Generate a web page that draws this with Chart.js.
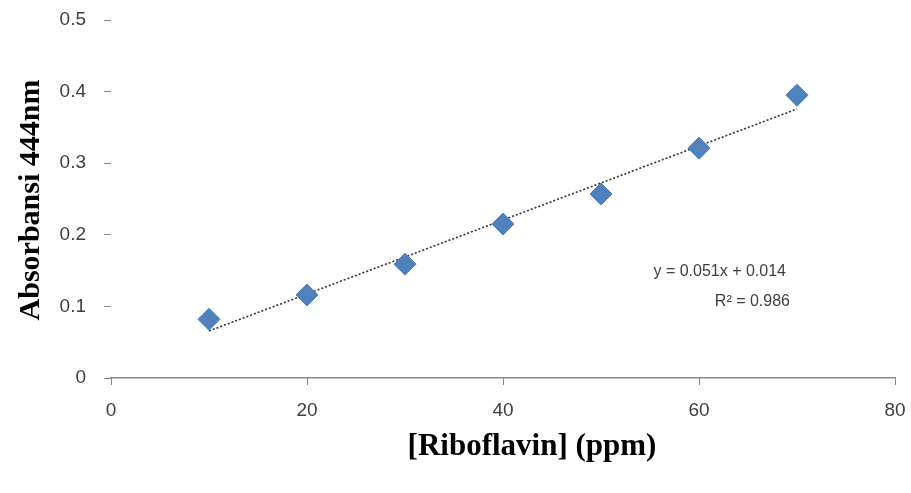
<!DOCTYPE html>
<html lang="en">
<head>
    <meta charset="UTF-8">
    <title>Riboflavin calibration</title>
    <script src="https://cdn.jsdelivr.net/npm/chart.js"></script>
    <style>
        body { margin: 0; background: #fff; }
        #chart-container { width: 911px; height: 493px; }
    </style>
</head>
<body>
    <div id="chart-container">
        <canvas id="calChart" width="911" height="493"></canvas>
    </div>

    <script>
        // Data
        const concentrations = [10, 20, 30, 40, 50, 60, 70];
        const absorbances = [0.082, 0.116, 0.159, 0.215, 0.257, 0.321, 0.395];
        const xTicks = [0, 20, 40, 60, 80];
        const yTicks = [0, 0.1, 0.2, 0.3, 0.4, 0.5];
        const equationLines = ['y = 0.051x + 0.014', 'R² = 0.986'];
        const xTitle = '[Riboflavin] (ppm)';
        const yTitle = 'Absorbansi 444nm';

        // Least squares trendline from the points
        const n = concentrations.length;
        const mx = concentrations.reduce((a, b) => a + b, 0) / n;
        const my = absorbances.reduce((a, b) => a + b, 0) / n;
        let sxy = 0, sxx = 0;
        for (let i = 0; i < n; i++) {
            sxy += (concentrations[i] - mx) * (absorbances[i] - my);
            sxx += (concentrations[i] - mx) ** 2;
        }
        const slope = sxy / sxx;
        const intercept = my - slope * mx;
        const xFirst = concentrations[0], xLast = concentrations[n - 1];
        const trend = [
            { x: xFirst, y: slope * xFirst + intercept },
            { x: xLast, y: slope * xLast + intercept }
        ];

        // Titles and equation drawn as text
        const textPlugin = {
            id: 'textPlugin',
            afterDraw(chart) {
                const ctx = chart.ctx;
                ctx.save();
                ctx.fillStyle = '#000';
                ctx.font = 'bold 31px "Liberation Serif"';
                ctx.textAlign = 'center';
                ctx.textBaseline = 'middle';
                ctx.fillText(xTitle, 532, 447);

                ctx.translate(31, 200);
                ctx.rotate(-Math.PI / 2);
                ctx.font = 'bold 30px "Liberation Serif"';
                ctx.fillText(yTitle, 0, 0);
                ctx.restore();

                ctx.save();
                ctx.fillStyle = '#404040';
                ctx.font = '16px "Liberation Sans"';
                ctx.textAlign = 'right';
                ctx.textBaseline = 'middle';
                ctx.fillText(equationLines[0], 786, 272);
                ctx.fillText(equationLines[1], 790, 302);
                ctx.restore();
            }
        };

        const ctx = document.getElementById('calChart').getContext('2d');
        new Chart(ctx, {
            type: 'scatter',
            data: {
                datasets: [{
                    label: 'Absorbansi',
                    data: concentrations.map((c, i) => ({ x: c, y: absorbances[i] })),
                    pointStyle: 'rectRot',
                    pointRadius: 11,
                    backgroundColor: '#4f81bd',
                    borderColor: '#4a7ebb',
                    borderWidth: 1
                }, {
                    label: 'Trend',
                    type: 'line',
                    data: trend,
                    borderColor: '#333',
                    borderWidth: 1.6,
                    borderDash: [2, 2],
                    pointRadius: 0,
                    fill: false
                }]
            },
            options: {
                responsive: false,
                animation: false,
                layout: { padding: { top: 20, right: 16, left: 0, bottom: 0 } },
                plugins: {
                    legend: { display: false },
                    tooltip: { enabled: false }
                },
                scales: {
                    x: {
                        type: 'linear',
                        min: 0,
                        max: 80,
                        afterBuildTicks: s => { s.ticks = xTicks.map(v => ({ value: v })); },
                        afterFit: s => { s.height = 115; s.paddingLeft = 0; s.paddingRight = 0; },
                        grid: { drawOnChartArea: false, tickLength: 7, color: '#868686' },
                        border: { display: true, color: '#868686', width: 1.5 },
                        ticks: {
                            color: '#404040',
                            padding: 14,
                            font: { family: 'Liberation Sans', size: 19 }
                        }
                    },
                    y: {
                        min: 0,
                        max: 0.5,
                        afterBuildTicks: s => { s.ticks = yTicks.map(v => ({ value: v })); },
                        afterFit: s => { s.width = 111; s.paddingTop = 0; s.paddingBottom = 0; },
                        grid: { drawOnChartArea: false, tickLength: 7, color: '#868686' },
                        border: { display: false },
                        ticks: {
                            color: '#404040',
                            padding: 18,
                            font: { family: 'Liberation Sans', size: 19 },
                            callback: v => v === 0 ? '0' : v.toFixed(1)
                        }
                    }
                }
            },
            plugins: [textPlugin]
        });
    </script>
</body>
</html>
